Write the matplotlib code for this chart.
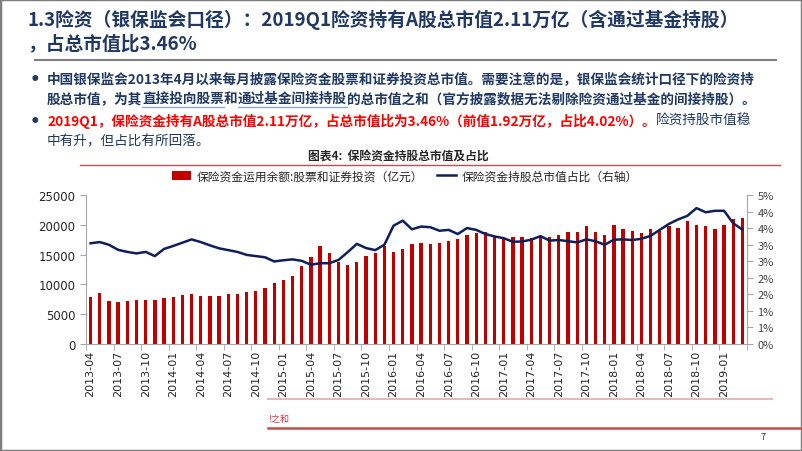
import matplotlib
matplotlib.use('Agg')
import matplotlib.pyplot as plt
import numpy as np
import pandas as pd

plt.rcParams['font.family'] = ['Noto Sans CJK SC', 'DejaVu Sans']

W, H = 802, 452

# month categories 2013-04 .. 2019-03
months = pd.period_range('2013-04', '2019-03', freq='M').strftime('%Y-%m').tolist()

# 保险资金运用余额:股票和证券投资 (亿元)
stock_value = [7890, 8610, 7270, 6990, 7160, 7440, 7440, 7440, 7770, 7830, 8220, 8330,
               8110, 8050, 7990, 8390, 8390, 8670, 8840, 9450, 10240, 10700, 11430, 13040,
               14550, 16500, 15320, 13760, 13260, 13710, 14820, 15220, 16440, 15380, 15890, 16730,
               16950, 16780, 16950, 17230, 17620, 18240, 18570, 18740, 17900, 17740, 17900, 17900,
               17850, 18180, 17900, 18340, 18740, 18740, 19750, 18740, 18340, 19970, 19250, 18960,
               18630, 19250, 18910, 19860, 19470, 20590, 20020, 19860, 19250, 19970, 20980, 21090]

# 保险资金持股总市值占比 (%)
share_pct = [3.38, 3.42, 3.33, 3.16, 3.09, 3.04, 3.09, 2.95, 3.19, 3.29, 3.40, 3.51,
             3.42, 3.31, 3.21, 3.15, 3.09, 2.99, 2.95, 2.91, 2.77, 2.81, 2.84, 2.79,
             2.66, 2.71, 2.71, 2.82, 3.08, 3.36, 3.22, 3.15, 3.33, 3.97, 4.14, 3.85,
             3.94, 3.92, 3.80, 3.83, 3.69, 3.89, 3.83, 3.69, 3.61, 3.55, 3.43, 3.44,
             3.50, 3.62, 3.47, 3.49, 3.45, 3.41, 3.51, 3.45, 3.33, 3.50, 3.51, 3.49,
             3.53, 3.63, 3.83, 4.03, 4.18, 4.30, 4.56, 4.42, 4.47, 4.47, 4.05, 3.84]

NAVY = '#1F3864'
RED = '#FF0000'
BAR = '#C00000'
LINE = '#0E1F5B'


def px(x, y):
    return x / W, 1 - y / H


fig = plt.figure(figsize=(W / 100, H / 100), dpi=100)
renderer = fig.canvas.get_renderer()


def draw_runs(x, y, runs, size):
    # runs: (text, color, underline, weight)
    for text, color, underline, wt in runs:
        t = fig.text(*px(x, y), text, color=color, fontsize=size,
                     fontweight=wt, va='center', ha='left')
        bb = t.get_window_extent(renderer)
        if underline:
            yy = y + 9
            fig.add_artist(plt.Line2D([x / W, (x + bb.width) / W], [1 - yy / H, 1 - yy / H],
                                      color='#8EA9C8', lw=1))
        x += bb.width
    return x


# title
fig.text(*px(28, 20), '1.3险资（银保监会口径）：2019Q1险资持有A股总市值2.11万亿（含通过基金持股）',
         color=NAVY, fontsize=13.5, fontweight='bold', va='center')
fig.text(*px(28, 44), '，占总市值比3.46%', color=NAVY, fontsize=13.5, fontweight='bold', va='center')
fig.add_artist(plt.Line2D([35 / W, 776 / W], [1 - 61 / H, 1 - 61 / H], color='#7F7F7F', lw=1.5))

# bullets
for yb in (79, 121):
    fig.text(*px(35, yb + 1), '•', color=NAVY, fontsize=12, fontweight='bold',
             va='center', ha='center', family='DejaVu Sans')
draw_runs(47, 79, [('中国银保监会2013年4月以来每月披露保险资金股票和证券投资总市值。需要注意的是，银保监会统计口径下的险资持',
                    NAVY, False, 'bold')], 9.8)
draw_runs(47, 99, [('股总市值，为其', NAVY, False, 'bold'),
                   ('直接投向股票', NAVY, True, 'bold'),
                   ('和', NAVY, False, 'bold'),
                   ('通过基金间接持股', NAVY, True, 'bold'),
                   ('的总市值之和（官方披露数据无法剔除险资通过基金的间接持股）。', NAVY, False, 'bold')], 9.8)
draw_runs(47, 121, [('2019Q1，保险资金持有A股总市值2.11万亿，占总市值比为3.46%（前值1.92万亿，占比4.02%）。',
                     RED, False, 'bold'),
                    ('险资持股市值稳', NAVY, False, 'normal')], 9.8)
draw_runs(47, 141, [('中有升，但占比有所回落。', NAVY, False, 'normal')], 9.8)

# caption
fig.text(*px(398, 157), '图表4:  保险资金持股总市值及占比', color='#262626', fontsize=8.5,
         fontweight='bold', va='center', ha='center')
fig.add_artist(plt.Line2D([80 / W, 780 / W], [1 - 166 / H, 1 - 166 / H], color='#C0504D', lw=1))

# chart
left, right, top, bottom = 86, 747, 196, 345
ax = fig.add_axes([left / W, 1 - bottom / H, (right - left) / W, (bottom - top) / H])
x = np.arange(len(months))
bars = ax.bar(x, stock_value, width=0.36, color=BAR, zorder=2,
              label='保险资金运用余额:股票和证券投资（亿元）')
ax.set_xlim(-0.5, len(months) - 0.5)
ax.set_ylim(0, 25000)
ax.set_yticks(np.arange(0, 25001, 5000))
ax.set_xticks(x[::3])
ax.set_xticklabels(months[::3], rotation=90, fontsize=8, color='#262626', family='DejaVu Sans')
ax.set_xticks(np.arange(-0.5, len(months), 3), minor=True)
ax.tick_params(axis='x', which='major', length=0, pad=4)
ax.tick_params(axis='x', which='minor', length=4, color='#A6A6A6')
ax.tick_params(axis='y', labelsize=8.5, length=4, color='#A6A6A6', labelcolor='#262626')
for lab in ax.get_yticklabels():
    lab.set_family('DejaVu Sans')
for s in ['top', 'right']:
    ax.spines[s].set_visible(False)
for s in ['left', 'bottom']:
    ax.spines[s].set_color('#A6A6A6')

ax2 = ax.twinx()
line, = ax2.plot(x, share_pct, color=LINE, lw=1.8, zorder=3, label='保险资金持股总市值占比（右轴）')
ax2.set_ylim(0, 5)
ax2.set_yticks(np.linspace(0, 5, 10))
ax2.set_yticklabels(['%.0f%%' % v for v in np.linspace(0, 5, 10)], fontsize=8,
                    color='#404040')
ax2.tick_params(axis='y', length=4, color='#A6A6A6')
for s in ['top', 'left', 'bottom']:
    ax2.spines[s].set_visible(False)
ax2.spines['right'].set_color('#A6A6A6')

fig.legend([bars, line], [bars.get_label(), line.get_label()], loc='center',
           bbox_to_anchor=px(405, 177), ncol=2, frameon=False, fontsize=8.5,
           handlelength=1.6, handleheight=0.7, columnspacing=1.2, handletextpad=0.5,
           labelcolor='#262626')

# bottom decorations
fig.add_artist(plt.Line2D([268 / W, 772 / W], [1 - 400 / H, 1 - 400 / H], color='#E6B8B7', lw=1.5))
fig.add_artist(plt.Line2D([268 / W, 802 / W], [1 - 429 / H, 1 - 429 / H], color='#C0504D', lw=1.8))
fig.text(*px(268, 420), '!之和', color='#E0303A', fontsize=6.5, style='italic', va='center')
fig.text(*px(763, 438), '7', color='#262626', fontsize=6.5, va='center', ha='center')

# slide border
fig.add_artist(plt.Rectangle((0, 0), 1, 1, transform=fig.transFigure, fill=False,
                             edgecolor='#7F7F7F', lw=2.5))

fig.savefig('out.png', dpi=100)
